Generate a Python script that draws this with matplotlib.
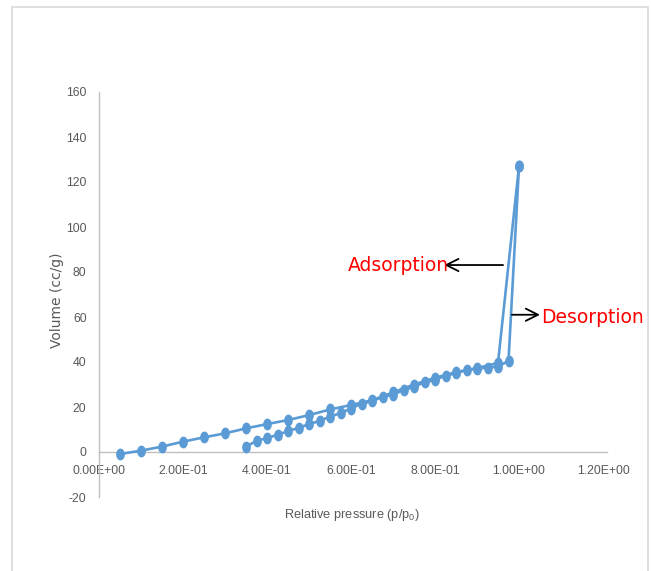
import matplotlib
matplotlib.use("Agg")
import matplotlib.pyplot as plt
import numpy as np
from matplotlib.path import Path
from matplotlib.patches import Rectangle
from matplotlib.ticker import FuncFormatter

plt.rcParams["axes.unicode_minus"] = False

# Data
ads_p = [0.05, 0.10, 0.15, 0.20, 0.25, 0.30, 0.35, 0.40, 0.45, 0.50, 0.55, 0.60,
         0.65, 0.70, 0.75, 0.80, 0.85, 0.90, 0.95, 1.00]
ads_v = [-0.9, 0.6, 2.4, 4.6, 6.5, 8.3, 10.5, 12.4, 14.2, 16.4, 18.9, 20.9,
         23.0, 26.5, 30.0, 33.0, 35.5, 37.3, 39.6, 127.0]
des_p = [0.35, 0.375, 0.40, 0.425, 0.45, 0.475, 0.50, 0.525, 0.55, 0.575, 0.60,
         0.625, 0.65, 0.675, 0.70, 0.725, 0.75, 0.775, 0.80, 0.825, 0.85, 0.875,
         0.90, 0.925, 0.95, 0.975, 1.00]
des_v = [2.4, 4.9, 6.2, 7.6, 9.3, 10.7, 12.4, 13.8, 15.7, 17.3, 19.3,
         21.5, 22.5, 24.5, 25.5, 27.5, 29.0, 31.0, 32.0, 34.0, 35.0, 36.5,
         37.0, 37.5, 38.0, 40.5, 127.0]
y_ticks = [-20, 0, 20, 40, 60, 80, 100, 120, 140, 160]
x_ticks = [0.0, 0.2, 0.4, 0.6, 0.8, 1.0, 1.2]

W, H = 651, 571
fig = plt.figure(figsize=(W / 100, H / 100), dpi=100)
fig.patch.set_facecolor("white")
fig.patches.append(Rectangle((12 / W, -0.01), (648 - 12) / W, 1 - 7 / H + 0.01,
                             transform=fig.transFigure, fill=False,
                             edgecolor="#D9D9D9", linewidth=1.2))

left, right = 99 / W, 603 / W
bottom, top = 1 - 497 / H, 1 - 92 / H
ax = fig.add_axes([left, bottom, right - left, top - bottom])
ax.set_xlim(0, 1.2)
ax.set_ylim(-20, 160)

# Ellipse marker (taller than wide)
t = np.linspace(0, 2 * np.pi, 40)
ell = Path(np.column_stack([0.7 * np.cos(t), np.sin(t)]))

col = "#5B9BD5"
ax.plot(ads_p, ads_v, color=col, lw=1.9, marker=ell, ms=7.5, zorder=3)
ax.plot(des_p, des_v, color=col, lw=1.9, marker=ell, ms=7.5, zorder=3)

for s in ["top", "right"]:
    ax.spines[s].set_visible(False)
ax.spines["left"].set_color("#BFBFBF")
ax.spines["bottom"].set_color("#BFBFBF")
ax.spines["left"].set_linewidth(1.0)
ax.spines["bottom"].set_linewidth(1.0)
ax.spines["bottom"].set_position(("data", 0))
ax.spines["bottom"].set_bounds(0, 1.21)

tickfont = ["Liberation Sans", "DejaVu Sans"]
ax.set_xticks(x_ticks)
ax.set_yticks(y_ticks)
ax.xaxis.set_major_formatter(FuncFormatter(lambda v, p: f"{v:.2E}"))
ax.tick_params(axis="both", length=0, labelcolor="#595959", labelsize=8.8)
ax.tick_params(axis="x", pad=9)
ax.tick_params(axis="y", pad=9)
for lab in ax.get_xticklabels() + ax.get_yticklabels():
    lab.set_family(tickfont)

fig.text(352 / W, 1 - 515 / H, "Relative pressure (p/p$_{\\mathregular{0}}$)",
         ha="center", va="center", fontsize=9.2, color="#595959", family=tickfont)
fig.text(57 / W, 1 - 300 / H, "Volume (cc/g)", rotation=90, ha="center",
         va="center", fontsize=10, color="#595959", family="DejaVu Sans")

# Annotations
ax.annotate("", xy=(0.822, 83.1), xytext=(0.962, 83.1),
            arrowprops=dict(arrowstyle="->", color="black", lw=1.3,
                            mutation_scale=22, shrinkA=0, shrinkB=0))
ax.text(0.834, 83.1, "Adsorption", color="red", fontsize=13.5, ha="right",
        va="center", family="DejaVu Sans")
ax.annotate("", xy=(1.05, 61.0), xytext=(0.983, 61.0),
            arrowprops=dict(arrowstyle="->", color="black", lw=1.3,
                            mutation_scale=22, shrinkA=0, shrinkB=0),
            annotation_clip=False)
ax.text(1.053, 59.6, "Desorption", color="red", fontsize=13.5, ha="left",
        va="center", family="DejaVu Sans", clip_on=False)

fig.savefig("out.png", dpi=100, facecolor="white")
